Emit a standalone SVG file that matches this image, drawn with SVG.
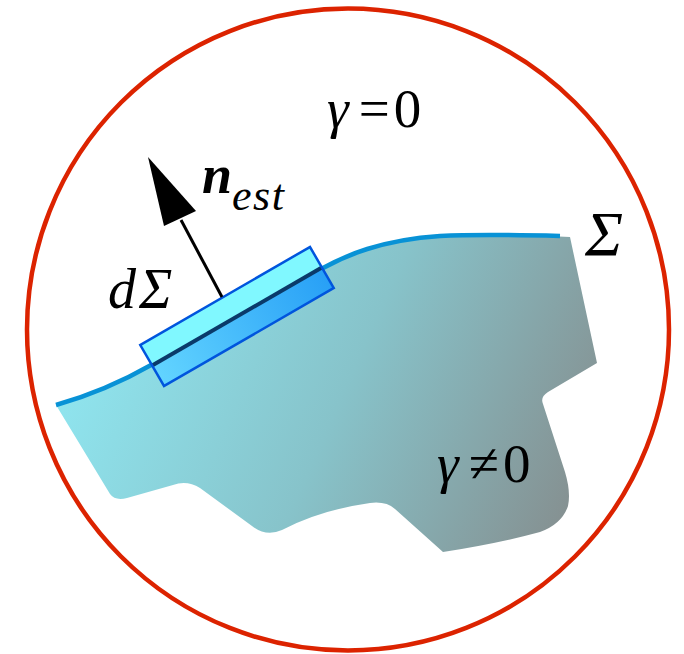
<svg xmlns="http://www.w3.org/2000/svg" width="684" height="654" viewBox="0 0 684 654">
  <defs>
    <linearGradient id="regionGrad" gradientUnits="userSpaceOnUse" x1="60" y1="330" x2="580" y2="560">
      <stop offset="0" stop-color="#90e8f2"/>
      <stop offset="0.5" stop-color="#87c3ca"/>
      <stop offset="1" stop-color="#858b8b"/>
    </linearGradient>
    <linearGradient id="boxLow" x1="0" y1="0" x2="1" y2="0">
      <stop offset="0" stop-color="#62d4ff"/>
      <stop offset="1" stop-color="#28a0f6"/>
    </linearGradient>
    <style>
      text { font-family: "Liberation Serif", "Times New Roman", serif; fill: #000; }
      .it { font-style: italic; }
      .bi { font-style: italic; font-weight: bold; }
    </style>
  </defs>
  <rect width="684" height="654" fill="#ffffff"/>

  <g id="boundary-circle">
    <circle cx="348" cy="329.5" r="321" fill="none" stroke="#dc2300" stroke-width="4.5"/>
  </g>

  <g id="region-gamma-nonzero">
    <path d="M 56,405 C 95,394 125,380 153,364 L 323,268 C 345,256 380,240 440,236 C 480,234 520,235 570,237 L 597,363 L 548,392 Q 540,397 543,404 L 565,472 Q 571,492 568,506 Q 562,524 540,532 Q 500,543 443,552 L 395,509 Q 386,501 370,503 Q 320,510 282,530 Q 266,537 252,526 L 200,488 Q 187,480 173,485 L 127,498 Q 115,501 110,494 Z" fill="url(#regionGrad)"/>
  </g>

  <g id="surface-sigma">
    <path d="M 56,405 C 95,394 125,380 153,364 L 323,268 C 345,256 380,240 440,236 C 480,234 520,235 560,236" fill="none" stroke="#0892d6" stroke-width="4.5"/>
  </g>

  <g id="element-dsigma" transform="translate(237,316.5) rotate(-30)">
    <rect x="-98" y="-23.75" width="196" height="23.75" fill="#80f8ff"/>
    <rect x="-98" y="0" width="196" height="23.75" fill="url(#boxLow)"/>
    <line x1="-98" y1="0" x2="98" y2="0" stroke="#0a3a6a" stroke-width="4"/>
    <rect x="-98" y="-23.75" width="196" height="47.5" fill="none" stroke="#0055dd" stroke-width="2.5"/>
  </g>

  <g id="connectors">
    <line x1="222" y1="297" x2="181" y2="220" stroke="#000" stroke-width="3"/>
    <polygon points="148,157 164,226 196,211" fill="#000"/>
  </g>

  <g id="labels">
    <text x="327" y="127" font-size="55"><tspan class="it">γ</tspan><tspan dx="10">=</tspan><tspan dx="4">0</tspan></text>
    <text x="437" y="482" font-size="55"><tspan class="it">γ</tspan><tspan dx="10">≠</tspan><tspan dx="4">0</tspan></text>
    <text x="202" y="193" font-size="54"><tspan class="bi">n</tspan><tspan class="it" font-size="44" dy="17" letter-spacing="1.5">est</tspan></text>
    <text class="it" x="108" y="308" font-size="56" letter-spacing="3">dΣ</text>
    <text class="it" x="585" y="256" font-size="64">Σ</text>
  </g>
</svg>
